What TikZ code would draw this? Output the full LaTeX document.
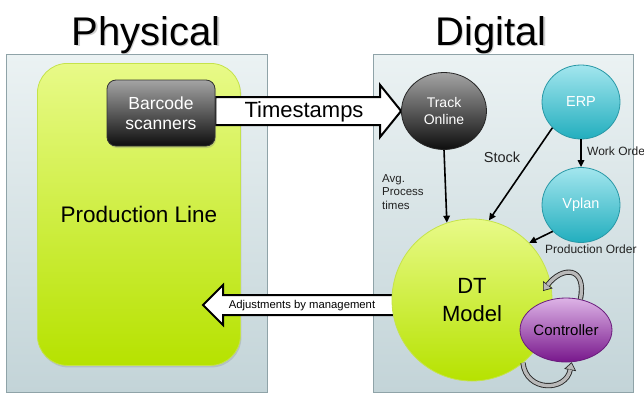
\documentclass[tikz,border=0pt]{standalone}
\usepackage{fontspec}
\setmainfont{Liberation Sans}
\usetikzlibrary{shapes.geometric,arrows.meta,shadows,calc}
\pgfdeclarelayer{bg}
\pgfdeclarelayer{mid}
\pgfsetlayers{bg,mid,main}

\definecolor{paneltop}{HTML}{EBF2F3}
\definecolor{panelbot}{HTML}{C3D4D8}
\definecolor{panelline}{HTML}{8FA3A8}
\definecolor{limetop}{HTML}{E8FA88}
\definecolor{limebot}{HTML}{B6E200}
\definecolor{limeline}{HTML}{C5E34A}
\definecolor{darktop}{HTML}{A4A4A4}
\definecolor{darkbot}{HTML}{0E0E0E}
\definecolor{tealtop}{HTML}{A3E6EE}
\definecolor{tealbot}{HTML}{22AEBE}
\definecolor{tealline}{HTML}{2898A6}
\definecolor{purptop}{HTML}{DDB3E6}
\definecolor{purpbot}{HTML}{78178C}
\definecolor{purpline}{HTML}{6A1C7C}
\definecolor{labelgray}{HTML}{222222}

\newcommand\fsz[2]{\fontsize{#1}{#2}\selectfont}

\begin{document}
\begin{tikzpicture}[x=1pt,y=-1pt,
  title/.style={inner sep=0pt, anchor=base, font=\fsz{40}{48}},
  panel/.style={draw=panelline, line width=0.9pt, top color=paneltop,
    bottom color=panelbot, inner sep=0pt, anchor=north west, minimum height=338pt},
  linebox/.style={draw=limeline, line width=0.8pt, top color=limetop,
    bottom color=limebot, rounded corners=30pt, inner sep=0pt, anchor=north west,
    drop shadow={opacity=0.25, shadow xshift=1pt, shadow yshift=-2pt},
    font=\fsz{22.5}{27}},
  darkbox/.style={draw=black!80, line width=0.8pt, top color=darktop,
    bottom color=darkbot, rounded corners=9pt, inner sep=0pt, text=white,
    align=center, drop shadow={opacity=0.3, shadow xshift=1pt, shadow yshift=-2pt}},
  blob/.style={ellipse, inner sep=0pt, align=center},
  darkblob/.style={blob, draw=black!85, line width=0.8pt, top color=darktop,
    bottom color=darkbot, text=white, font=\fsz{14}{17}},
  tealblob/.style={blob, draw=tealline, line width=0.8pt, top color=tealtop,
    bottom color=tealbot, text=white, font=\fsz{14.5}{17}},
  limeblob/.style={blob, draw=limeline, line width=0.8pt, top color=limetop,
    bottom color=limebot, font=\fsz{22}{28}},
  purpblob/.style={blob, draw=purpline, line width=0.8pt, top color=purptop,
    bottom color=purpbot, font=\fsz{15}{18}},
  blockarrow/.style={draw=black, line width=2pt, fill=white, line join=miter},
  flow/.style={line width=1.6pt, -{Triangle[length=7pt,width=6.5pt]}},
  lbl/.style={inner sep=0pt, text=labelgray, font=\fsz{11.5}{13.5}},
  orderlbl/.style={lbl, font=\fsz{12}{14}},
  loopline/.style={line width=5.2pt, black!85},
  loopfill/.style={line width=3.4pt, gray!55},
  looptip/.style={line width=0.7pt, black!85,
    -{Triangle[width=12pt,length=8pt,fill=gray!55]}}
]
\useasboundingbox (0,0) rectangle (644,394);

% titles with a faint shadow
\node[title, text=black!30, opacity=0.6] at (147.5,46.5) {Physical};
\node[title] (phystitle) at (146,45) {Physical};
\node[title, text=black!30, opacity=0.6] at (492.5,46.5) {Digital};
\node[title] (digtitle) at (491,45) {Digital};

% the two background panels and the production line
\begin{pgfonlayer}{bg}
  \node[panel, minimum width=261pt] (physpanel) at (6,54) {};
  \node[panel, minimum width=260pt] (digpanel) at (373,54) {};
  \node[linebox, minimum width=203pt, minimum height=302pt] (prodline) at (37,63) {Production Line};
\end{pgfonlayer}

% physical and digital components
\node[darkbox, minimum width=108pt, minimum height=66pt, font=\fsz{17.5}{20}]
  (scanner) at (161,113) {Barcode\\scanners};
\node[darkblob, minimum width=85pt, minimum height=77pt] (track) at (444,111) {Track\\Online};
\node[tealblob, minimum width=78pt, minimum height=74pt] (erp) at (581,102) {ERP};
\node[tealblob, minimum width=78pt, minimum height=75pt] (vplan) at (581,205) {Vplan};
\node[limeblob, minimum width=160pt, minimum height=162pt] (dt) at (472,300) {DT\\Model};
\node[purpblob, minimum width=74pt, minimum height=64pt] (ctrl) at (566,330) {Controller};

% wide block arrows between the two worlds
\coordinate (tsA) at (scanner.east |- track.west);
\coordinate (adjtip) at (203,305);
\begin{pgfonlayer}{mid}
  \draw[blockarrow] ($(tsA)+(0,-14)$) -- ($(track.west)+(-21,-14)$)
    -- ($(track.west)+(-21,-26)$) -- (track.west) -- ($(track.west)+(-21,26)$)
    -- ($(track.west)+(-21,14)$) -- ($(tsA)+(0,14)$) -- cycle;
  \node[inner sep=0pt, font=\fsz{22}{26}] (tslabel) at (304,112) {Timestamps};
  \draw[blockarrow] ($(dt.west |- adjtip)+(8,-10)$) -- ($(adjtip)+(20,-10)$)
    -- ($(adjtip)+(20,-20)$) -- (adjtip) -- ($(adjtip)+(20,20)$)
    -- ($(adjtip)+(20,10)$) -- ($(dt.west |- adjtip)+(8,10)$) -- cycle;
  \node[inner sep=0pt, font=\fsz{11.3}{13}] (adjlabel) at (302,306) {Adjustments by management};
\end{pgfonlayer}

% data flows into the model
\draw[flow] (track.south) -- (dt.108);
\draw[flow] (erp.222) -- (dt.78);
\draw[flow] (erp.south) -- (vplan.north);
\draw[flow] (vplan.223) -- (dt.45);

\node[lbl, anchor=west, align=left] (avglabel) at (382,192) {Avg.\\Process\\times};
\node[lbl, font=\fsz{14.5}{16}] (stocklabel) at (502,157) {Stock};
\node[orderlbl, anchor=west] (wolabel) at (587,151) {Work Order};
\node[orderlbl, anchor=west] (polabel) at (545,249) {Production Order};

% control loop between model and controller
\coordinate (upA) at (543,291);
\draw[looptip] (ctrl.65) .. controls (587,266) and (562,266) .. (upA);
\draw[loopline, shorten >=7.6pt] (ctrl.65) .. controls (587,266) and (562,266) .. (upA);
\draw[loopfill, shorten >=7.6pt] (ctrl.65) .. controls (587,266) and (562,266) .. (upA);

\draw[looptip] (dt.-51) .. controls (526,392) and (566,392) .. (ctrl.-80);
\draw[loopline, shorten >=7.6pt] (dt.-51) .. controls (526,392) and (566,392) .. (ctrl.-80);
\draw[loopfill, shorten >=7.6pt] (dt.-51) .. controls (526,392) and (566,392) .. (ctrl.-80);
\end{tikzpicture}
\end{document}
